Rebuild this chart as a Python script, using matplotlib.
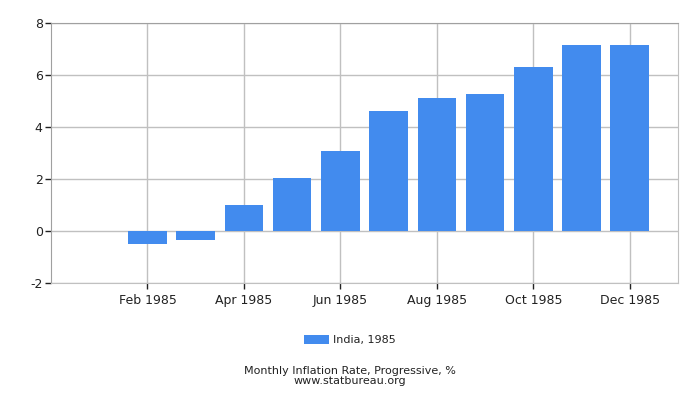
import matplotlib
matplotlib.use('Agg')
import matplotlib.pyplot as plt

plt.rcParams['axes.unicode_minus'] = False

months = ['Jan', 'Feb', 'Mar', 'Apr', 'May', 'Jun',
          'Jul', 'Aug', 'Sep', 'Oct', 'Nov', 'Dec']
values = [0.0, -0.49, -0.33, 1.0, 2.04, 3.07, 4.61, 5.11, 5.26, 6.30, 7.14, 7.14]
tick_idx = [1, 3, 5, 7, 9, 11]
tick_labels = ['Feb 1985', 'Apr 1985', 'Jun 1985', 'Aug 1985', 'Oct 1985', 'Dec 1985']
series_name = 'India, 1985'

bar_color = '#428bee'
grid_color = '#c0c0c0'
text_color = '#222222'

fig = plt.figure(figsize=(7, 4), dpi=100)
ax = fig.add_axes([51 / 700, 1 - 283.3 / 400, 627 / 700, (283.3 - 22.7) / 400])

x = list(range(len(months)))
ax.bar(x, values, width=0.8, color=bar_color, label=series_name, zorder=3)

ax.set_xlim(-1, 12)
ax.set_ylim(-2, 8)
ax.set_yticks([-2, 0, 2, 4, 6, 8])
ax.set_xticks(tick_idx)
ax.set_xticklabels(tick_labels)

ax.grid(True, color=grid_color, linewidth=1, zorder=0)
for s in ax.spines.values():
    s.set_color(grid_color)
ax.spines['top'].set_color('#a0a0a0')
ax.spines['left'].set_color('#a0a0a0')
ax.tick_params(axis='both', colors=text_color, labelsize=9, length=4, width=1)
ax.tick_params(axis='x', color='#222222')
ax.tick_params(axis='y', color='#222222', pad=2)

fig.legend(loc='center', bbox_to_anchor=(0.5, 1 - 340 / 400), frameon=False,
           fontsize=8, handlelength=2.2, handleheight=0.9, handletextpad=0.4,
           labelcolor=text_color)

fig.text(0.5, 1 - 371.5 / 400, 'Monthly Inflation Rate, Progressive, %',
         ha='center', va='center', fontsize=8, color=text_color)
fig.text(0.5, 1 - 381.5 / 400, 'www.statbureau.org',
         ha='center', va='center', fontsize=8, color=text_color)

fig.savefig('out.png', dpi=100)
